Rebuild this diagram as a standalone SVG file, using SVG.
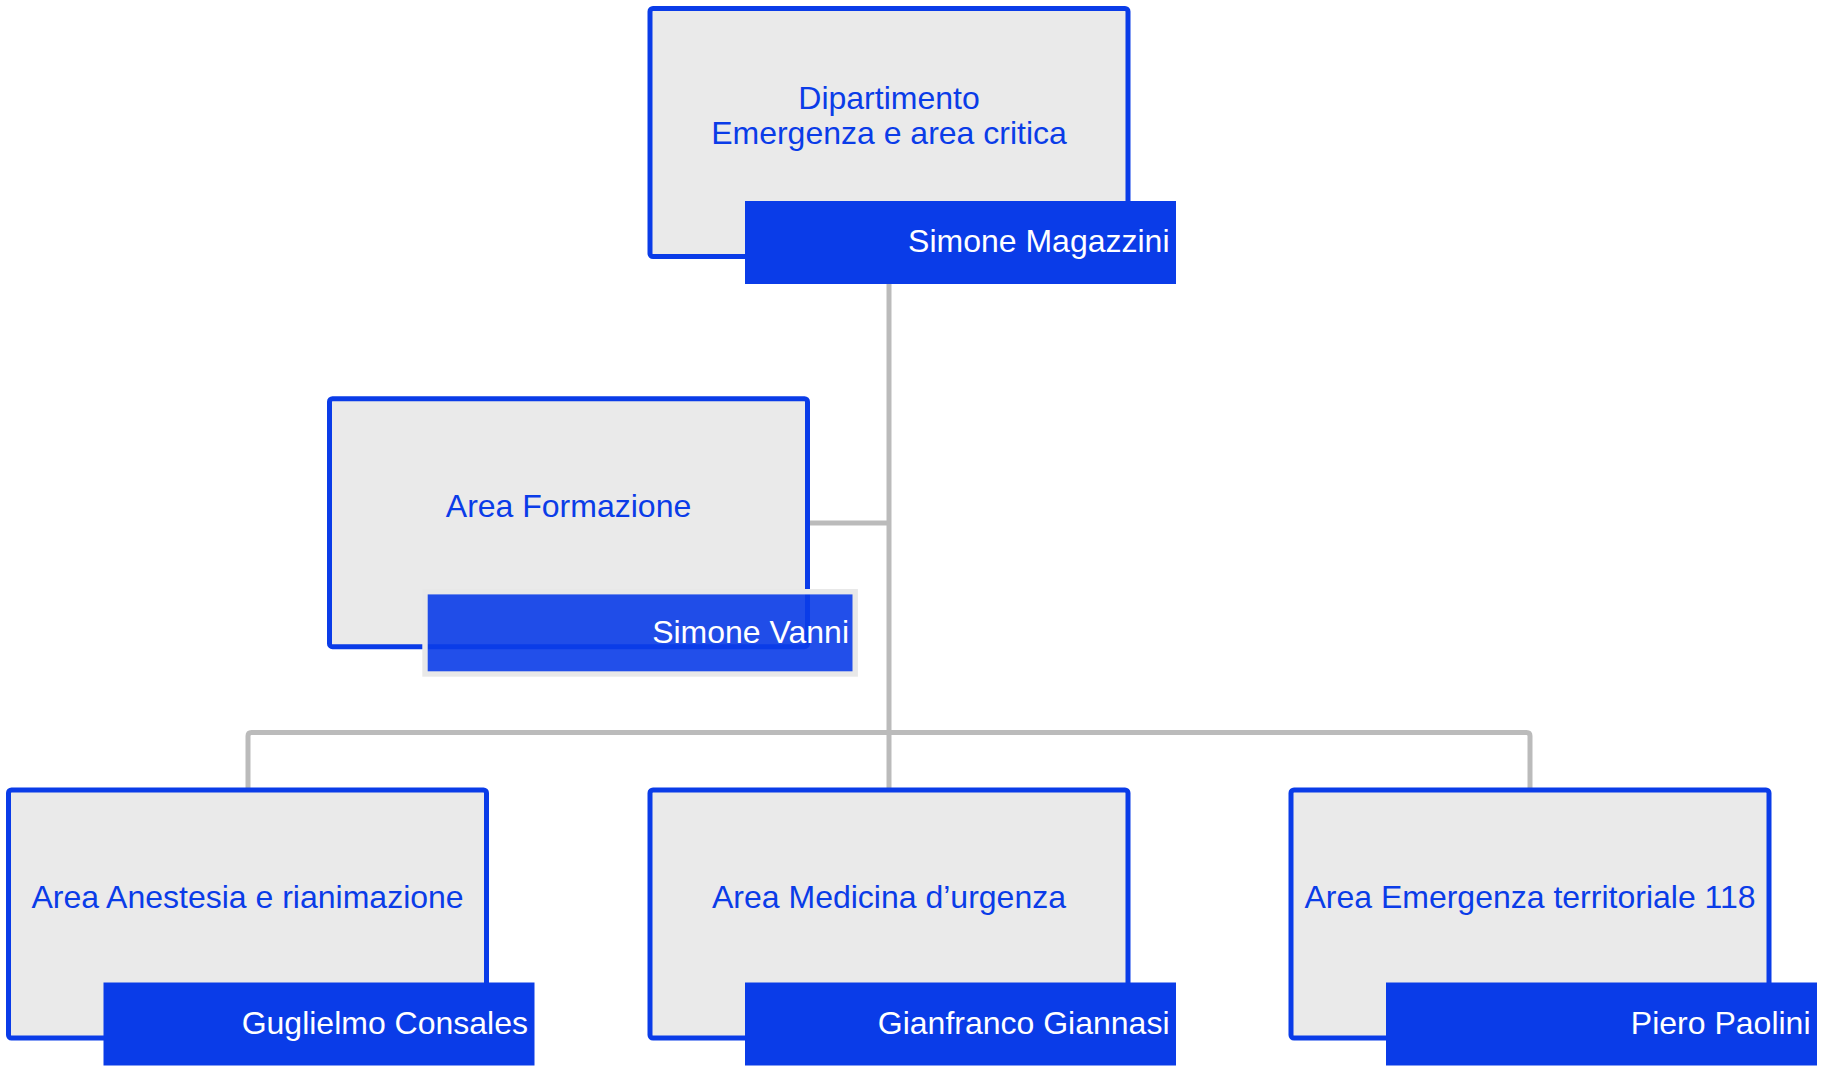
<svg xmlns="http://www.w3.org/2000/svg" width="1825" height="1067" viewBox="0 0 1825 1067">
  <style>
    .box { fill: #eaeaea; stroke: #0a3ce8; stroke-width: 5; }
    .bar { fill: #0a3ce8; }
    .bar-hover { fill: #0a3ce8; fill-opacity: 0.9; stroke: #e8e8e8; stroke-width: 5.4; }
    .title { font-family: "Liberation Sans", Arial, sans-serif; font-size: 32px; fill: #0a3ce8; text-anchor: middle; }
    .name { font-family: "Liberation Sans", Arial, sans-serif; font-size: 32px; fill: #ffffff; text-anchor: end; }
    .link { fill: none; stroke: #bbbbbb; stroke-width: 5; stroke-linejoin: round; }
  </style>
  <rect x="0" y="0" width="1825" height="1067" fill="#ffffff"/>

  <g id="connectors">
    <path class="link" d="M889 284 V790"/>
    <path class="link" d="M807.5 523 H889"/>
    <path class="link" d="M248 790 V736 Q248 732.5 251.5 732.5 H1526.5 Q1530 732.5 1530 736 V790"/>
  </g>

  <g id="node-dipartimento">
    <rect class="box" x="650" y="8.5" width="478" height="248" rx="3"/>
    <text class="title" x="889" y="109">Dipartimento</text>
    <text class="title" x="889" y="143.5">Emergenza e area critica</text>
    <rect class="bar" x="745" y="201" width="431" height="83"/>
    <text class="name" x="1169.5" y="252">Simone Magazzini</text>
  </g>

  <g id="node-formazione">
    <rect class="box" x="329.5" y="398.7" width="478" height="248" rx="3"/>
    <text class="title" x="568.5" y="517">Area Formazione</text>
    <rect class="bar-hover" x="425" y="591.7" width="430.2" height="82.3"/>
    <text class="name" x="849" y="643">Simone Vanni</text>
  </g>

  <g id="node-anestesia">
    <rect class="box" x="8.5" y="790" width="478" height="248" rx="3"/>
    <text class="title" x="247.5" y="908">Area Anestesia e rianimazione</text>
    <rect class="bar" x="103.5" y="982.5" width="431" height="83"/>
    <text class="name" x="528" y="1034">Guglielmo Consales</text>
  </g>

  <g id="node-medicina">
    <rect class="box" x="650" y="790" width="478" height="248" rx="3"/>
    <text class="title" x="889" y="908">Area Medicina d’urgenza</text>
    <rect class="bar" x="745" y="982.5" width="431" height="83"/>
    <text class="name" x="1169.5" y="1034">Gianfranco Giannasi</text>
  </g>

  <g id="node-emergenza118">
    <rect class="box" x="1291" y="790" width="478" height="248" rx="3"/>
    <text class="title" x="1530" y="908">Area Emergenza territoriale 118</text>
    <rect class="bar" x="1386" y="982.5" width="431" height="83"/>
    <text class="name" x="1810.5" y="1034">Piero Paolini</text>
  </g>
</svg>
